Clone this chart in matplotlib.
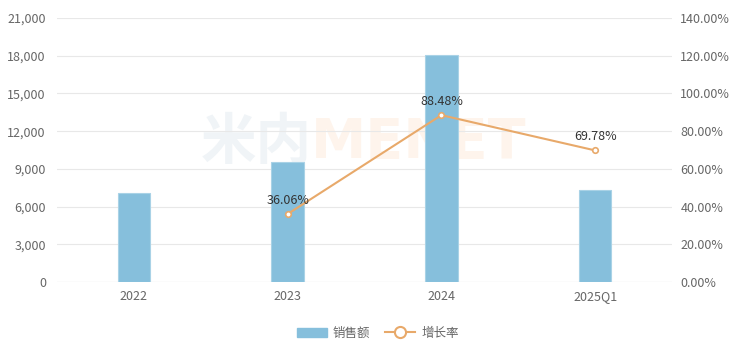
import matplotlib
matplotlib.use("Agg")
import matplotlib.pyplot as plt
from matplotlib.lines import Line2D
from matplotlib.patches import Patch
from matplotlib.ticker import FuncFormatter

plt.rcParams['font.family'] = ['Noto Sans CJK SC', 'DejaVu Sans']

categories = ["2022", "2023", "2024", "2025Q1"]
sales = [7050, 9560, 18060, 7330]
growth_cats = ["2023", "2024", "2025Q1"]
growth = [36.06, 88.48, 69.78]

bar_color = "#86BFDC"
line_color = "#E8A96A"
text_color = "#666666"
grid_color = "#E8E8E8"

fig = plt.figure(figsize=(7.41, 3.52), dpi=100)
ax = fig.add_axes([57/741, 1-282/352, (672-57)/741, (282-18)/352])
ax2 = ax.twinx()

# watermark (behind everything)
ax.text(0.42, 0.594, "米内", transform=fig.transFigure, fontsize=40, fontweight='bold',
        color="#F0F4F7", ha='right', va='center', zorder=0.5)
ax.text(0.42, 0.594, "MENET", transform=fig.transFigure, fontsize=40, fontweight='bold',
        color="#FEF4EC", ha='left', va='center', zorder=0.5, family='DejaVu Sans')

x = list(range(len(categories)))
ax.bar(x, sales, width=0.21, color=bar_color, edgecolor="#A9D2E6", linewidth=0.8, zorder=2)
ax.set_ylim(0, 21000)
ax.set_yticks(range(0, 21001, 3000))
ax.yaxis.set_major_formatter(FuncFormatter(lambda v, p: f"{int(v):,}"))
ax.set_xlim(-0.5, len(categories) - 0.5)
ax.set_xticks(x)
ax.set_xticklabels(categories)
ax.grid(axis='y', color=grid_color, linewidth=0.8, zorder=0)
ax.set_axisbelow(True)

gx = [categories.index(c) for c in growth_cats]
ax2.plot(gx, growth, color=line_color, linewidth=1.5, marker='o', markersize=4,
         markerfacecolor='white', markeredgecolor=line_color, markeredgewidth=1.2, zorder=5)
ax2.set_ylim(0, 140)
ax2.set_yticks(range(0, 141, 20))
ax2.yaxis.set_major_formatter(FuncFormatter(lambda v, p: f"{v:.2f}%"))
for xi, g in zip(gx, growth):
    ax2.annotate(f"{g:.2f}%", (xi, g), xytext=(0, 5), textcoords='offset points',
                 ha='center', va='bottom', fontsize=9, color="#333333", zorder=6)

for a in (ax, ax2):
    for s in a.spines.values():
        s.set_visible(False)
    a.tick_params(axis='both', length=0, labelsize=9, colors=text_color)
ax.tick_params(axis='y', pad=8)
ax2.tick_params(axis='y', pad=6)
ax.tick_params(axis='x', pad=6)
ax.axhline(0, color="#DDDDDD", linewidth=0.8, zorder=1)

handles = [Patch(facecolor=bar_color, edgecolor=bar_color),
           Line2D([0], [0], color=line_color, linewidth=1.5, marker='o', markersize=8,
                  markerfacecolor='white', markeredgecolor=line_color, markeredgewidth=1.5)]
fig.legend(handles, ["销售额", "增长率"], loc='center', bbox_to_anchor=(0.51, 1-333/352),
           ncol=2, frameon=False, fontsize=9, labelcolor=text_color, handlelength=2.4,
           columnspacing=1.2, handletextpad=0.5)

fig.savefig("out.png", dpi=100)
